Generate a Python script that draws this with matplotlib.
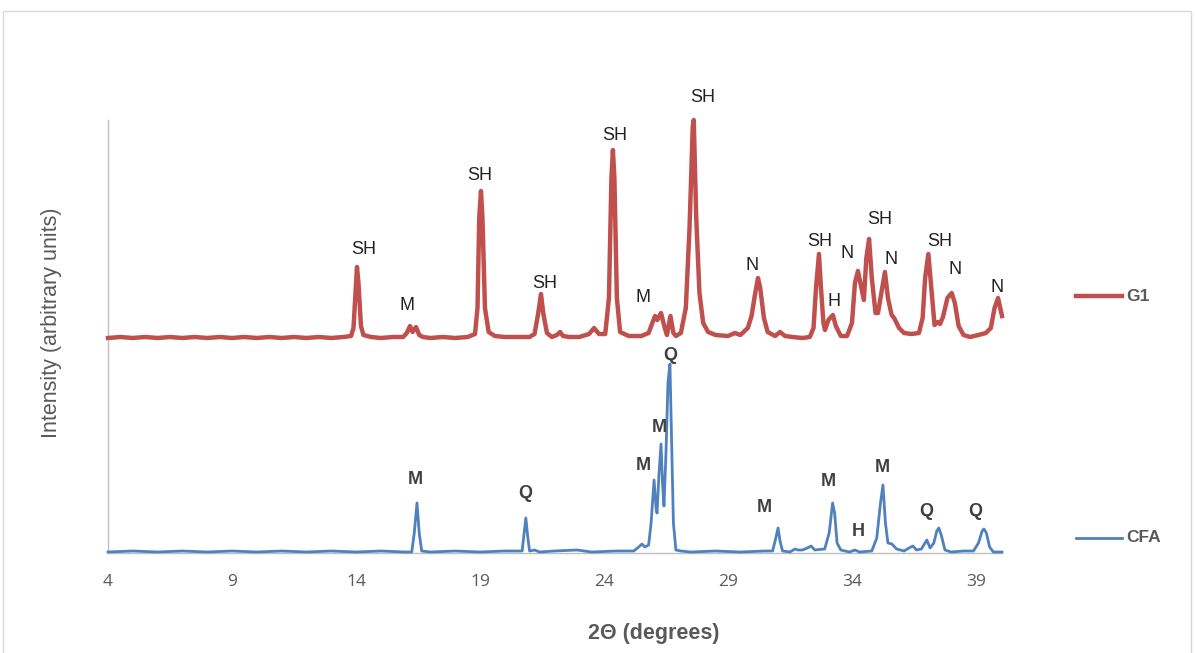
import matplotlib
matplotlib.use("Agg")
import matplotlib.pyplot as plt
from matplotlib.lines import Line2D
from matplotlib.patches import Rectangle

# ---------------- data ----------------
g1_two_theta = [4.0, 4.5, 5.0, 5.5, 6.0, 6.5, 7.0, 7.5, 8.0, 8.5, 9.0, 9.5, 10.0, 10.5,
                11.0, 11.5, 12.0, 12.5, 13.0, 13.5, 13.8, 13.9, 14.0, 14.04, 14.1, 14.2,
                14.3, 14.6, 15.0, 15.5, 15.9, 16.05, 16.18, 16.28, 16.42, 16.55, 16.7,
                17.0, 17.5, 18.0, 18.5, 18.8, 18.9, 18.97, 19.04, 19.1, 19.2, 19.35, 19.6,
                20.0, 20.5, 21.0, 21.2, 21.35, 21.46, 21.55, 21.7, 21.9, 22.1, 22.23,
                22.35, 22.6, 23.0, 23.4, 23.6, 23.8, 24.05, 24.2, 24.3, 24.36, 24.42,
                24.52, 24.65, 25.0, 25.5, 25.8, 25.95, 26.06, 26.15, 26.3, 26.45, 26.54,
                26.68, 26.8, 26.9, 27.1, 27.3, 27.45, 27.58, 27.62, 27.72, 27.85, 28.0,
                28.2, 28.5, 29.0, 29.28, 29.5, 29.8, 29.95, 30.1, 30.21, 30.3, 30.45,
                30.6, 30.9, 31.1, 31.3, 31.6, 32.0, 32.3, 32.45, 32.55, 32.67, 32.75,
                32.85, 32.91, 33.05, 33.23, 33.35, 33.55, 33.8, 34.0, 34.12, 34.24,
                34.38, 34.48, 34.58, 34.69, 34.8, 34.95, 35.05, 35.15, 35.33, 35.45,
                35.6, 35.7, 35.9, 36.1, 36.4, 36.7, 36.85, 36.95, 37.08, 37.2, 37.33,
                37.45, 37.55, 37.67, 37.85, 38.02, 38.15, 38.3, 38.5, 38.76, 39.1, 39.4,
                39.6, 39.75, 39.89, 40.05]
g1_intensity = [0, 1, 0, 1, 0, 1, 0, 1, 0, 1, 0, 1, 0, 1,
                0, 1, 0, 1, 0, 1, 2, 10, 55, 71, 55, 12,
                3, 1, 0, 1, 1, 5, 12, 6, 11, 3, 1,
                0, 1, 0, 1, 4, 30, 120, 147, 120, 30, 6, 2,
                1, 1, 1, 4, 25, 44, 25, 5, 1, 3, 6,
                2, 1, 1, 4, 10, 4, 4, 40, 160, 188, 160,
                40, 6, 2, 2, 5, 15, 22, 18, 25, 10, 3,
                22, 5, 2, 5, 30, 110, 212, 218, 120, 45, 15,
                6, 3, 2, 5, 3, 10, 22, 45, 60, 50, 20,
                6, 2, 6, 2, 1, 0, 1, 10, 50, 84, 50,
                15, 8, 18, 23, 12, 2, 2, 15, 55, 67,
                50, 38, 80, 99, 60, 25, 25, 40, 66, 40,
                23, 20, 10, 5, 4, 5, 20, 60, 84, 50, 13,
                16, 14, 21, 40, 45, 35, 12, 3, 1, 3, 5,
                10, 30, 40, 22]

cfa_two_theta = [4.0, 5.0, 6.0, 7.0, 8.0, 9.0, 10.0, 11.0, 12.0, 13.0, 14.0, 15.0, 16.0,
                 16.25, 16.35, 16.46, 16.55, 16.65, 17.0, 18.0, 19.0, 20.0, 20.7, 20.78,
                 20.85, 20.93, 21.0, 21.2, 21.4, 22.0, 22.91, 23.5, 24.5, 25.2, 25.4,
                 25.53, 25.65, 25.8, 25.9, 26.02, 26.1, 26.14, 26.22, 26.3, 26.36, 26.42,
                 26.5, 26.58, 26.66, 26.72, 26.8, 26.9, 27.1, 27.5, 28.5, 29.5, 30.5,
                 30.8, 30.93, 31.02, 31.1, 31.2, 31.5, 31.7, 31.82, 32.0, 32.2, 32.35,
                 32.5, 32.9, 33.08, 33.22, 33.3, 33.4, 33.55, 33.9, 34.12, 34.3, 34.8,
                 35.0, 35.15, 35.25, 35.35, 35.45, 35.61, 35.8, 36.1, 36.3, 36.46, 36.6,
                 36.8, 37.02, 37.15, 37.3, 37.42, 37.5, 37.6, 37.75, 38.0, 38.5, 38.9,
                 39.1, 39.25, 39.32, 39.42, 39.55, 39.7, 40.05]
cfa_intensity = [1, 2, 1, 2, 1, 2, 1, 2, 1, 2, 1, 2, 1,
                 1, 20, 50, 20, 2, 1, 2, 1, 2, 2, 20,
                 35, 15, 2, 3, 1, 2, 3, 1, 2, 2, 6,
                 9, 6, 8, 30, 73, 45, 40, 80, 109, 70, 47,
                 100, 170, 189, 120, 30, 3, 2, 1, 2, 1, 2,
                 2, 15, 25, 12, 2, 1, 4, 3, 3, 5, 7,
                 3, 4, 20, 50, 40, 10, 3, 1, 3, 1, 2,
                 15, 50, 68, 30, 10, 9, 4, 2, 5, 7, 3,
                 4, 13, 5, 10, 22, 25, 18, 3, 1, 2, 2,
                 10, 22, 24, 20, 6, 1, 1]

g1_offset = 215

x_ticks = [4, 9, 14, 19, 24, 29, 34, 39]

g1_labels = ["SH", "M", "SH", "SH", "SH", "M", "SH", "N", "SH", "H", "N", "SH", "N",
             "SH", "N", "N"]
g1_label_x = [14.32, 16.06, 19.0, 21.62, 24.44, 25.57, 27.99, 29.97, 32.71, 33.27, 33.8,
              35.13, 35.57, 37.55, 38.15, 39.85]
g1_label_y = [303, 247, 378, 270, 418, 255, 456, 288, 311, 252, 300, 334, 293, 311, 284, 265]

cfa_labels = ["M", "Q", "M", "M", "Q", "M", "M", "H", "M", "Q", "Q"]
cfa_label_x = [16.38, 20.81, 25.57, 26.22, 26.66, 30.45, 33.03, 34.24, 35.21, 36.98, 38.96]
cfa_label_y = [73, 60, 87, 125, 198, 46, 71, 22, 86, 41, 42]

series_names = ["G1", "CFA"]

# ---------------- figure ----------------
W, H = 1195, 653
fig = plt.figure(figsize=(W / 100, H / 100), dpi=100)
fig.patch.set_facecolor("white")

# outer chart border
fig.add_artist(Rectangle((3 / W, -0.01), (1191 - 3) / W, 1 - 11 / H + 0.01,
                         transform=fig.transFigure, fill=False,
                         edgecolor="#D9D9D9", linewidth=1.0))

left, right, top, bottom = 108, 1002, 120, 553
ax = fig.add_axes([left / W, 1 - bottom / H, (right - left) / W, (bottom - top) / H])

red = "#C0504D"
blue = "#4F81BD"

g1_plot = [v + g1_offset for v in g1_intensity]
ax.plot(g1_two_theta, g1_plot, color=red, linewidth=3.2, solid_joinstyle="round",
        clip_on=False, zorder=3)
ax.plot(cfa_two_theta, cfa_intensity, color=blue, linewidth=2.0, solid_joinstyle="round",
        clip_on=False, zorder=3)

ax.set_xlim(4, 40.05)
ax.set_ylim(0, 433)

for s in ["top", "right"]:
    ax.spines[s].set_visible(False)
for s in ["left", "bottom"]:
    ax.spines[s].set_color("#BFBFBF")
    ax.spines[s].set_linewidth(1.0)
ax.spines["bottom"].set_zorder(2)

ax.set_yticks([])
ax.set_xticks(x_ticks)
ax.set_xticklabels([str(t) for t in x_ticks], fontsize=12.5, color="#595959",
                   fontfamily="Open Sans")
ax.tick_params(axis="x", length=0, pad=15)

ann_font = "Liberation Sans"
for lab, x, y in zip(g1_labels, g1_label_x, g1_label_y):
    ax.text(x, y, lab, ha="center", va="center", fontsize=13, color="#222222",
            fontfamily=ann_font, clip_on=False, zorder=4)
for lab, x, y in zip(cfa_labels, cfa_label_x, cfa_label_y):
    ax.text(x, y, lab, ha="center", va="center", fontsize=13, color="#404040",
            fontweight="bold", fontfamily=ann_font, clip_on=False, zorder=4)

# axis titles
fig.text(52 / W, 1 - 323 / H, "Intensity (arbitrary units)", rotation=90,
         ha="center", va="center", fontsize=15.5, color="#595959", fontfamily=ann_font)
fig.text(654 / W, 1 - 633 / H, "2\u0398 (degrees)", ha="center", va="center",
         fontsize=15.5, color="#595959", fontweight="bold", fontfamily=ann_font)

# legend entries (manually placed as in the reference)
leg_y = [296, 538]
leg_col = [red, blue]
leg_lw = [3.2, 2.0]
for name, yy, c, lw in zip(series_names, leg_y, leg_col, leg_lw):
    fig.add_artist(Line2D([1076 / W, 1122 / W], [1 - yy / H, 1 - yy / H],
                          transform=fig.transFigure, color=c, linewidth=lw))
    fig.text(1126 / W, 1 - yy / H, name, ha="left", va="center", fontsize=12.5,
             color="#595959", fontweight="bold", fontfamily=ann_font)

fig.savefig("out.png", dpi=100, facecolor="white")
